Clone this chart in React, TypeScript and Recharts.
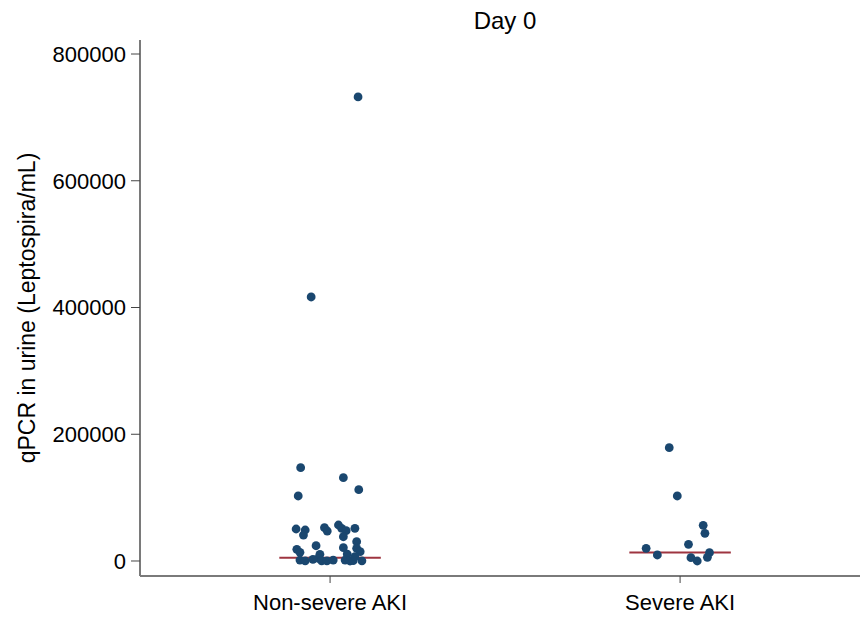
import React from "react";
import { ComposedChart, Scatter, XAxis, YAxis, ReferenceLine } from "recharts";

const categories = ["Non-severe AKI", "Severe AKI"];
const categoryPositions = [1, 2];
const yTicks = [0, 200000, 400000, 600000, 800000];

// jittered x position and qPCR value for each patient
const nonSevereX = [
  1.080, 0.946, 0.916, 1.038, 1.082, 0.909, 0.903, 0.929, 0.924, 0.984,
  0.992, 1.024, 1.033, 1.046, 1.071, 1.038, 1.076, 0.960, 1.038, 1.076,
  1.086, 0.905, 0.914, 0.971, 1.049, 0.967, 0.914, 0.929, 0.951, 0.976,
  0.991, 1.043, 1.057, 1.091, 1.066, 1.071, 1.009,
];
const nonSevereValues = [
  732200, 416600, 147200, 131500, 112500, 102600, 50500, 48900, 41000, 52500,
  47300, 56800, 51600, 47800, 51600, 38300, 30500, 24100, 21000, 20000,
  14700, 18500, 13700, 10600, 11000, 4200, 1500, 200, 2700, 300,
  300, 1500, 0, 300, 500, 6800, 1500,
];
const severeX = [1.969, 1.992, 2.066, 2.071, 2.024, 1.903, 2.084, 1.935, 2.078, 2.031, 2.049];
const severeValues = [178800, 102600, 56300, 43700, 26300, 20000, 13100, 9500, 5800, 5200, 0];

const medians = [5200, 13500];
const medianHalfWidth = 0.145;

const nonSevereData = nonSevereX.map((x, i) => ({ x, y: nonSevereValues[i] }));
const severeData = severeX.map((x, i) => ({ x, y: severeValues[i] }));

const FONT = "'Liberation Sans', Arial, Helvetica, sans-serif";
const DOT = "#1a476f";
const RED = "#9e3540";

const Dot = (props: any) => {
  const { cx, cy } = props;
  if (cx == null || cy == null) return null;
  return <circle cx={cx} cy={cy} r={4.4} fill={DOT} />;
};

export default function App() {
  return (
    <div style={{ position: "absolute", left: 0, top: 0, width: 862, height: 617, background: "#fff" }}>
      <ComposedChart width={862} height={617} margin={{ top: 40, right: 2, bottom: 0, left: 0 }}>
        <XAxis
          type="number"
          dataKey="x"
          domain={[0.457, 2.514]}
          allowDataOverflow
          ticks={categoryPositions}
          tickFormatter={(v: number) => categories[Math.round(v) - 1] ?? ""}
          height={41}
          tickSize={7}
          tickMargin={11}
          tick={{ fontSize: 22, fill: "#000", fontFamily: FONT }}
          axisLine={{ stroke: "#7a7a7a", strokeWidth: 2 }}
          tickLine={{ stroke: "#444", strokeWidth: 1 }}
        />
        <YAxis
          type="number"
          dataKey="y"
          domain={[-23670, 822100]}
          allowDataOverflow
          ticks={yTicks}
          width={140}
          tickSize={9}
          tickMargin={5}
          tick={{ fontSize: 22, fill: "#000", fontFamily: FONT }}
          axisLine={{ stroke: "#7a7a7a", strokeWidth: 2 }}
          tickLine={{ stroke: "#444", strokeWidth: 1 }}
        />
        {categoryPositions.map((c, i) => (
          <ReferenceLine
            key={c}
            segment={[
              { x: c - medianHalfWidth, y: medians[i] },
              { x: c + medianHalfWidth, y: medians[i] },
            ]}
            stroke={RED}
            strokeWidth={2}
          />
        ))}
        <Scatter data={nonSevereData} dataKey="y" shape={<Dot />} isAnimationActive={false} />
        <Scatter data={severeData} dataKey="y" shape={<Dot />} isAnimationActive={false} />
      </ComposedChart>
      <svg
        width={862}
        height={617}
        style={{ position: "absolute", left: 0, top: 0, pointerEvents: "none" }}
      >
        <text x={505} y={29} textAnchor="middle" fontSize={24} fontFamily={FONT} fill="#000">
          Day 0
        </text>
        <text
          x={35}
          y={308}
          transform="rotate(-90, 35, 308)"
          textAnchor="middle"
          fontSize={23}
          fontFamily={FONT}
          fill="#000"
        >
          qPCR in urine (Leptospira/mL)
        </text>
      </svg>
    </div>
  );
}
